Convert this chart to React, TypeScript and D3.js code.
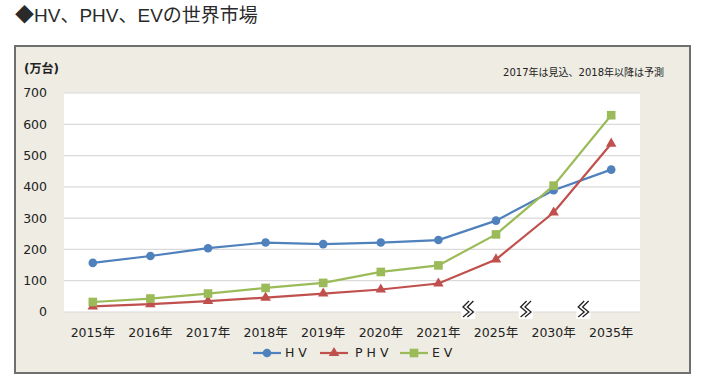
import React from "react";
import * as d3 from "d3";

const categories = ["2015年", "2016年", "2017年", "2018年", "2019年", "2020年", "2021年", "2025年", "2030年", "2035年"];
const hv = [157, 179, 204, 222, 217, 222, 230, 292, 389, 455];
const phv = [18, 25, 35, 46, 59, 72, 91, 168, 318, 538];
const ev = [32, 43, 59, 77, 93, 128, 149, 248, 404, 629];
const yTicks = [0, 100, 200, 300, 400, 500, 600, 700];
const breakAfter = ["2021年", "2025年", "2030年"];

const FONT = "'DejaVu Sans', 'Noto Sans CJK JP', sans-serif";
const TITLE_FONT = "'Liberation Sans', 'Noto Sans CJK JP', sans-serif";
const W = 702, H = 385;

const series = [
  { name: "H V", values: hv, color: "#4F81BD", marker: "circle" },
  { name: "P H V", values: phv, color: "#C0504D", marker: "triangle" },
  { name: "E V", values: ev, color: "#9BBB59", marker: "square" },
];

function Marker({ type, x, y, color }: { type: string; x: number; y: number; color: string }) {
  if (type === "circle") return <circle cx={x} cy={y} r={4.3} fill={color} />;
  if (type === "square") return <rect x={x - 4.3} y={y - 4.3} width={8.6} height={8.6} fill={color} />;
  const p = d3.symbol().type(d3.symbolTriangle).size(48)();
  return <path d={p || ""} transform={`translate(${x},${y})`} fill={color} />;
}

export default function App() {
  const x = d3.scaleBand<string>().domain(categories).range([64, 640]).padding(0);
  const y = d3.scaleLinear().domain([0, 700]).range([312, 93]);
  const cx = (c: string) => (x(c) as number) + x.bandwidth() / 2;
  const line = d3
    .line<number>()
    .x((_, i) => cx(categories[i]))
    .y((d) => y(d));

  const legendItems = [
    { ...series[0], lx: 253, tx: 285 },
    { ...series[1], lx: 320, tx: 355 },
    { ...series[2], lx: 400, tx: 432 },
  ];

  return (
    <div style={{ position: "absolute", left: 0, top: 0, width: W, height: H, background: "#fff" }}>
      <svg width={W} height={H} style={{ display: "block" }}>
        <rect width={W} height={H} fill="#fff" />
        <text x={15} y={22} fontFamily={TITLE_FONT} fontSize={19} fill="#2a2a2a">
          ◆HV、PHV、EVの世界市場
        </text>
        {/* frame */}
        <rect x={15} y={46} width={675} height={327} fill="#EEECE3" stroke="#6f6f6f" strokeWidth={2} />
        {/* plot area */}
        <rect x={64} y={93} width={576} height={219} fill="#fff" />
        {yTicks.map((t) => (
          <line key={t} x1={64} x2={640} y1={y(t)} y2={y(t)} stroke="#DADADA" strokeWidth={1.2} />
        ))}
        {yTicks.map((t) => (
          <text key={"l" + t} x={47} y={y(t)} dy="0.35em" textAnchor="end" fontFamily={FONT} fontSize={12.5} fill="#222">
            {t}
          </text>
        ))}
        <text x={24} y={73} fontFamily={FONT} fontSize={12} fontWeight="bold" fill="#222">
          (万台)
        </text>
        <text x={664} y={76} textAnchor="end" fontFamily={FONT} fontSize={10} fill="#222">
          2017年は見込、2018年以降は予測
        </text>
        {categories.map((c) => (
          <text key={c} x={cx(c)} y={333} dy="0.35em" textAnchor="middle" fontFamily={FONT} fontSize={12.5} fill="#222">
            {c}
          </text>
        ))}
        {/* break marks */}
        {breakAfter.map((c) => {
          const i = categories.indexOf(c);
          const bx = (x(categories[i + 1]) as number) + 1;
          const by = 309;
          const zig = (o: number) =>
            `M${bx + o + 3},${by - 8} L${bx + o - 3},${by - 2} L${bx + o + 3},${by + 3} L${bx + o - 3},${by + 8}`;
          return (
            <g key={"b" + c}>
              <rect x={bx - 7} y={by - 10} width={14} height={20} fill="#fff" />
              <path d={zig(-2.2)} fill="none" stroke="#222" strokeWidth={1.3} />
              <path d={zig(2.2)} fill="none" stroke="#222" strokeWidth={1.3} />
            </g>
          );
        })}
        {series.map((s) => (
          <g key={s.name}>
            <path d={line(s.values) || ""} fill="none" stroke={s.color} strokeWidth={2.2} />
            {s.values.map((v, i) => (
              <Marker key={i} type={s.marker} x={cx(categories[i])} y={y(v)} color={s.color} />
            ))}
          </g>
        ))}
        {legendItems.map((s) => (
          <g key={"lg" + s.name}>
            <line x1={s.lx} x2={s.lx + 28} y1={353} y2={353} stroke={s.color} strokeWidth={2.2} />
            <Marker type={s.marker} x={s.lx + 14} y={353} color={s.color} />
            <text x={s.tx} y={353} dy="0.35em" fontFamily={FONT} fontSize={12.5} fill="#222">
              {s.name}
            </text>
          </g>
        ))}
      </svg>
    </div>
  );
}
